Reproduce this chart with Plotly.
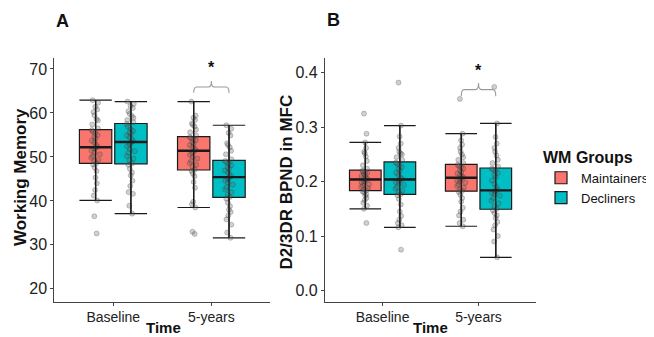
import numpy as np
import plotly.graph_objects as go

# ---------------- data ----------------
time_labels = ["Baseline", "5-years"]
group_names = ["Maintainers", "Decliners"]
group_colors = ["#F8766D", "#00BFC4"]

# Panel A: Working Memory
wm_maint_baseline = [32.6, 36.5, 40.1, 41.2, 42.5, 44.0, 45.3, 46.8, 47.6, 48.3,
                     48.6, 49.0, 49.3, 49.8, 50.2, 50.6, 51.0, 51.4, 51.9, 52.1,
                     52.3, 52.8, 53.3, 53.7, 54.2, 54.6, 55.0, 55.4, 55.8, 56.1,
                     56.5, 57.4, 58.3, 58.6, 59.5, 60.2, 60.8, 61.4, 62.3, 62.9]
wm_decl_baseline = [37.1, 38.9, 41.6, 42.0, 43.4, 44.6, 45.8, 46.5, 47.3, 48.2,
                    48.5, 49.3, 49.6, 50.2, 50.9, 51.3, 51.8, 52.4, 52.9, 53.2,
                    53.6, 54.1, 54.5, 54.9, 55.3, 55.6, 55.9, 56.4, 56.9, 57.5,
                    57.9, 58.4, 58.9, 59.3, 59.8, 60.4, 61.1, 61.6, 62.1, 62.6]
wm_maint_5y = [32.5, 33.0, 38.5, 39.2, 39.8, 43.0, 44.3, 45.6, 46.2, 46.8,
               47.1, 47.8, 48.2, 48.6, 49.1, 49.6, 50.0, 50.5, 50.9, 51.2,
               51.6, 51.9, 52.3, 52.7, 53.0, 53.4, 53.8, 54.0, 54.3, 54.5,
               54.9, 55.6, 56.2, 56.9, 57.3, 57.6, 58.4, 58.9, 59.4, 62.6]
wm_decl_5y = [31.6, 32.8, 34.6, 35.8, 36.7, 37.5, 38.0, 38.8, 39.6, 40.5,
              40.9, 41.4, 42.0, 42.6, 43.1, 43.7, 44.2, 44.6, 45.0, 45.2,
              45.6, 46.0, 46.5, 46.9, 47.3, 47.7, 48.1, 48.5, 48.8, 49.1,
              49.5, 50.6, 51.4, 52.2, 52.7, 53.1, 54.9, 55.5, 56.4, 57.2]

# Panel B: D2/3DR BPND in MFC
bp_maint_baseline = [0.124, 0.150, 0.156, 0.161, 0.166, 0.170, 0.174, 0.177, 0.180, 0.182,
                     0.184, 0.186, 0.188, 0.190, 0.193, 0.195, 0.197, 0.199, 0.201, 0.203,
                     0.205, 0.207, 0.208, 0.210, 0.212, 0.214, 0.216, 0.218, 0.219, 0.220,
                     0.224, 0.230, 0.238, 0.246, 0.252, 0.255, 0.262, 0.272, 0.288, 0.325]
bp_decl_baseline = [0.075, 0.116, 0.120, 0.124, 0.130, 0.137, 0.145, 0.158, 0.168, 0.175,
                    0.177, 0.180, 0.183, 0.187, 0.190, 0.194, 0.197, 0.199, 0.201, 0.203,
                    0.205, 0.208, 0.212, 0.216, 0.220, 0.224, 0.227, 0.230, 0.233, 0.235,
                    0.240, 0.245, 0.250, 0.252, 0.255, 0.262, 0.270, 0.283, 0.303, 0.382]
bp_maint_5y = [0.118, 0.124, 0.130, 0.138, 0.145, 0.152, 0.163, 0.170, 0.176, 0.181,
               0.183, 0.186, 0.189, 0.192, 0.195, 0.198, 0.200, 0.202, 0.204, 0.206,
               0.208, 0.210, 0.212, 0.215, 0.218, 0.221, 0.224, 0.227, 0.229, 0.231,
               0.234, 0.240, 0.245, 0.250, 0.255, 0.262, 0.268, 0.276, 0.288, 0.352]
bp_decl_5y = [0.061, 0.090, 0.100, 0.112, 0.120, 0.126, 0.133, 0.138, 0.142, 0.147,
              0.150, 0.155, 0.160, 0.165, 0.170, 0.174, 0.177, 0.180, 0.182, 0.183,
              0.185, 0.190, 0.196, 0.202, 0.208, 0.212, 0.216, 0.219, 0.222, 0.224,
              0.228, 0.234, 0.240, 0.248, 0.255, 0.262, 0.270, 0.282, 0.307, 0.374]

wm_ticks = [20, 30, 40, 50, 60, 70]
bp_ticks = [0.0, 0.1, 0.2, 0.3, 0.4]

panels = [
    dict(xa="x", ya="y", data=[[wm_maint_baseline, wm_decl_baseline], [wm_maint_5y, wm_decl_5y]]),
    dict(xa="x2", ya="y2", data=[[bp_maint_baseline, bp_decl_baseline], [bp_maint_5y, bp_decl_5y]]),
]

# ---------------- layout helpers (page has an 8px body margin) ----------------
OFF = 8
FW, FH = 646, 329


def px_x(px):
    return (px - OFF) / FW


def px_y(py):
    return 1 - (py - OFF) / FH


FONT = "Liberation Sans, Arial, sans-serif"
DODGE = 0.18
BOXW = 0.33
EDGE = "#1a1a1a"
AXC = "#444444"


def box_stats(values):
    a = np.asarray(values, float)
    q1, med, q3 = np.percentile(a, [25, 50, 75])
    iqr = q3 - q1
    lo = a[a >= q1 - 1.5 * iqr].min()
    hi = a[a <= q3 + 1.5 * iqr].max()
    return q1, med, q3, lo, hi


fig = go.Figure()
legend_done = set()

for p in panels:
    vx, vy, mx, my = [], [], [], []
    for ti, pair in enumerate(p["data"]):
        center = ti + 1
        for gi, vals in enumerate(pair):
            pos = center + (-DODGE if gi == 0 else DODGE)
            q1, med, q3, lo, hi = box_stats(vals)
            show = group_names[gi] not in legend_done
            legend_done.add(group_names[gi])
            fig.add_trace(go.Box(
                x=[pos], q1=[q1], median=[med], q3=[q3], lowerfence=[lo], upperfence=[hi],
                orientation="v", width=BOXW, whiskerwidth=1, boxpoints=False,
                fillcolor=group_colors[gi], line=dict(color=EDGE, width=1.2),
                name=group_names[gi], legendgroup=group_names[gi], showlegend=show,
                xaxis=p["xa"], yaxis=p["ya"], hoverinfo="skip"))
            fig.add_trace(go.Box(
                x=[pos] * len(vals), y=vals, boxpoints="all", jitter=0.3, pointpos=0,
                width=BOXW, whiskerwidth=0, fillcolor="rgba(0,0,0,0)",
                line=dict(color="rgba(0,0,0,0)", width=0),
                marker=dict(size=5, color="rgba(100,100,100,0.3)",
                            line=dict(color="rgba(40,40,40,0.4)", width=0.6)),
                showlegend=False, xaxis=p["xa"], yaxis=p["ya"], hoverinfo="skip"))
            vx += [pos, pos, None]
            vy += [lo, hi, None]
            mx += [pos - BOXW / 2, pos + BOXW / 2, None]
            my += [med, med, None]
    fig.add_trace(go.Scatter(x=vx, y=vy, mode="lines", line=dict(color=EDGE, width=1.3),
                             showlegend=False, xaxis=p["xa"], yaxis=p["ya"], hoverinfo="skip"))
    fig.add_trace(go.Scatter(x=mx, y=my, mode="lines", line=dict(color=EDGE, width=2.4),
                             showlegend=False, xaxis=p["xa"], yaxis=p["ya"], hoverinfo="skip"))


def bracket(xref, yref, x0, x1, ytop, yend, ynotch, dx):
    xm = (x0 + x1) / 2
    path = (f"M {x0},{yend} Q {x0},{ytop} {x0+dx},{ytop} L {xm-dx},{ytop} "
            f"Q {xm},{ytop} {xm},{ynotch} Q {xm},{ytop} {xm+dx},{ytop} "
            f"L {x1-dx},{ytop} Q {x1},{ytop} {x1},{yend}")
    return dict(type="path", path=path, xref=xref, yref=yref,
                line=dict(color="#9a9a9a", width=1.1))


fig.add_shape(bracket("x", "y", 2 - DODGE, 2 + DODGE, 65.9, 64.6, 67.2, 0.03))
fig.add_shape(bracket("x2", "y2", 2 - DODGE, 2 + DODGE, 0.369, 0.357, 0.381, 0.03))

fig.add_annotation(x=2, y=70.4, xref="x", yref="y", text="<b>*</b>", showarrow=False,
                   font=dict(size=16, color="#111", family=FONT))
fig.add_annotation(x=2, y=0.405, xref="x2", yref="y2", text="<b>*</b>", showarrow=False,
                   font=dict(size=16, color="#111", family=FONT))


def label(text, x, y, size, angle=0, xanchor="center"):
    fig.add_annotation(x=px_x(x), y=px_y(y), xref="paper", yref="paper", text=text,
                       showarrow=False, xanchor=xanchor, yanchor="middle", textangle=angle,
                       font=dict(size=size, color="#111", family=FONT))


label("<b>A</b>", 55, 21, 18, xanchor="left")
label("<b>B</b>", 329, 20, 18, xanchor="left")
label("<b>Working Memory</b>", 20.7, 177.5, 17, angle=-90)
label("<b>D2/3DR BPND in MFC</b>", 289, 182, 17, angle=-90)
label("<b>Time</b>", 165, 327.5, 15)
label("<b>Time</b>", 436, 327.5, 15)

common_x = dict(range=[0.4, 2.6], tickvals=[1, 2], ticktext=time_labels,
                showline=True, linecolor=AXC, linewidth=1.2, ticks="outside", ticklen=3,
                tickcolor=AXC, showgrid=False, zeroline=False,
                tickfont=dict(size=14, color="#222", family=FONT), automargin=False)
common_y = dict(domain=[px_y(301.5), px_y(58)], showline=True, linecolor=AXC, linewidth=1.2,
                ticks="outside", ticklen=3, tickcolor=AXC, showgrid=False, zeroline=False,
                tickfont=dict(size=16, color="#222", family=FONT), automargin=False)

fig.update_layout(
    width=FW, height=FH,
    margin=dict(l=0, r=0, t=0, b=0),
    paper_bgcolor="white", plot_bgcolor="white",
    boxmode="overlay",
    font=dict(family=FONT),
    xaxis=dict(common_x, domain=[px_x(55), px_x(273.5)], anchor="y"),
    xaxis2=dict(common_x, domain=[px_x(329), px_x(542.7)], anchor="y2"),
    yaxis=dict(common_y, range=[17.12, 72.5], tickvals=wm_ticks, anchor="x"),
    yaxis2=dict(common_y, range=[-0.0202, 0.4271], tickvals=bp_ticks, tickformat=".1f", anchor="x2"),
    legend=dict(x=px_x(548), y=px_y(142), xanchor="left", yanchor="top",
                title=dict(text="<b>WM Groups</b>", font=dict(size=16, color="#111", family=FONT)),
                font=dict(size=13, color="#111", family=FONT), itemwidth=30,
                bgcolor="rgba(0,0,0,0)", tracegroupgap=0),
)

fig.write_html("out.html")
